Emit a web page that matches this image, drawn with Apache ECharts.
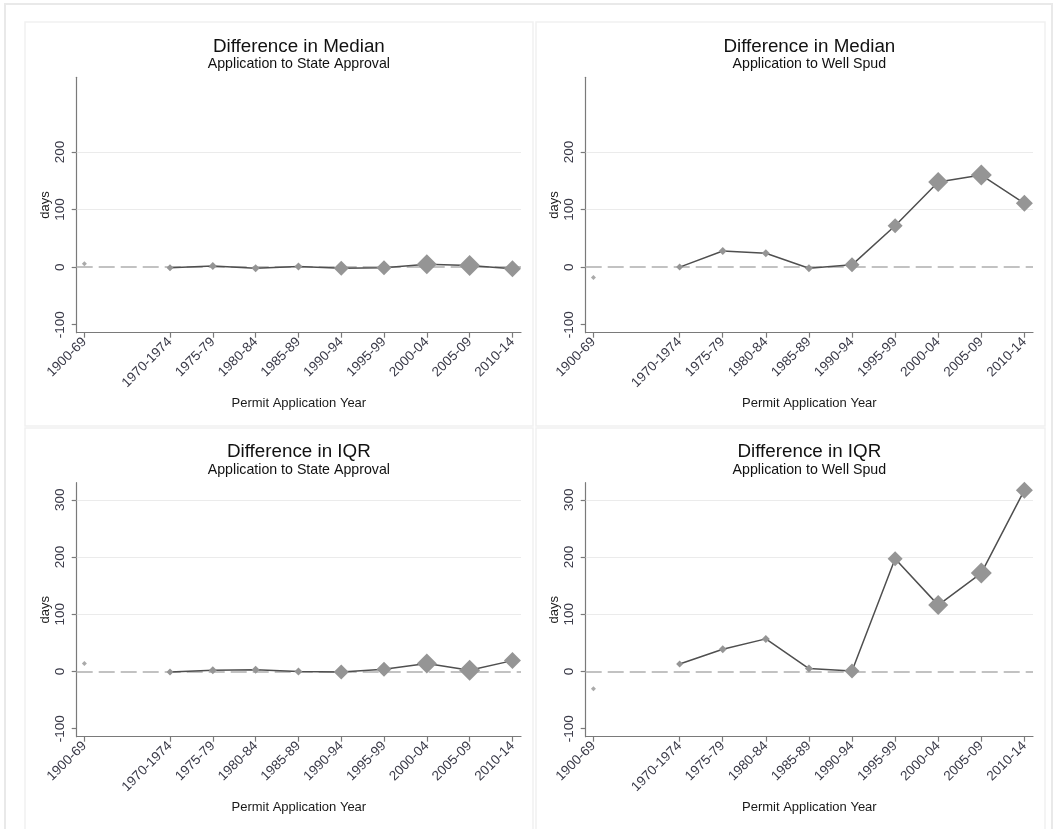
<!DOCTYPE html>
<html>
<head>
<meta charset="utf-8">
<script src="https://cdn.jsdelivr.net/npm/echarts@6/dist/echarts.min.js"></script>
<style>
  html, body { margin: 0; padding: 0; background: #ffffff; }
  #chart { width: 1058px; height: 829px; }
</style>
</head>
<body>
<div id="chart"></div>
<script>
// Permit application periods and their numeric code on the x scale
// (the 1900-69 group sits apart from the five-year groups).
const periods = ['1900-69', '1970-1974', '1975-79', '1980-84', '1985-89',
                 '1990-94', '1995-99', '2000-04', '2005-09', '2010-14'];
const periodCode = [0, 2, 3, 4, 5, 6, 7, 8, 9, 10];

// Differences in days, one value per period
const medianApproval = [6, -1, 2, -2, 1, -2, -1, 5, 3, -3];
const medianSpud     = [-18, 0, 28, 24, -2, 4, 72, 148, 160, 111];
const iqrApproval    = [14, -1, 2, 3, 0, -1, 4, 14, 2, 19];
const iqrSpud        = [-30, 13, 39, 57, 5, 1, 197, 116, 172, 317];

// Y tick labels
const yTicksMedian = [-100, 0, 100, 200];
const yTicksIqr    = [-100, 0, 100, 200, 300];

// Texts
const panelTitles    = ['Difference in Median', 'Difference in Median', 'Difference in IQR', 'Difference in IQR'];
const panelSubtitles = ['Application to State Approval', 'Application to Well Spud',
                        'Application to State Approval', 'Application to Well Spud'];
const xAxisTitle = 'Permit Application Year';
const yAxisTitle = 'days';

// ---- styling / layout ----
const FONT = '"Liberation Sans", Arial, sans-serif';
const AXIS_COLOR = '#7a7a7a';
const LABEL_COLOR = '#3a3a48';
const MARKER_COLOR = '#959595';
const LINE_COLOR = '#4f4f4f';
// diamond sizes by period (weighted markers)
const symbolSizes = [5, 7, 8, 8, 8, 15, 15, 20, 21, 17];

const cols = [{ left: 76.7, width: 444.3 }, { left: 585.7, width: 447.3 }];
const rows = [{ top: 77.3, height: 255.4 }, { top: 482.7, height: 254 }];

const panels = [
  { values: medianApproval, ticks: yTicksMedian, col: 0, row: 0 },
  { values: medianSpud,     ticks: yTicksMedian, col: 1, row: 0 },
  { values: iqrApproval,    ticks: yTicksIqr,    col: 0, row: 1 },
  { values: iqrSpud,        ticks: yTicksIqr,    col: 1, row: 1 }
];

const grid = [], xAxis = [], yAxis = [], series = [], title = [];

panels.forEach((p, i) => {
  const c = cols[p.col], r = rows[p.row];
  grid.push({ left: c.left, top: r.top, width: c.width, height: r.height, containLabel: false });

  title.push({
    text: panelTitles[i],
    subtext: panelSubtitles[i],
    left: c.left + c.width / 2,
    top: r.top - 40,
    textAlign: 'center',
    padding: 0,
    itemGap: 1,
    textStyle: { fontFamily: FONT, fontSize: 18.8, fontWeight: 'normal', color: '#111' },
    subtextStyle: { fontFamily: FONT, fontSize: 14.2, color: '#111' }
  });

  xAxis.push({
    type: 'value', gridIndex: i, min: -0.18, max: 10.2,
    axisLine: { show: true, onZero: false, lineStyle: { color: AXIS_COLOR, width: 1.2 } },
    axisTick: { show: true, inside: false, customValues: periodCode, length: 5, lineStyle: { color: AXIS_COLOR, width: 1.2 } },
    axisLabel: {
      customValues: periodCode, rotate: 45, margin: 7,
      fontFamily: FONT, fontSize: 13.5, color: LABEL_COLOR,
      formatter: v => periods[periodCode.indexOf(Math.round(v))]
    },
    splitLine: { show: false },
    name: xAxisTitle, nameLocation: 'middle', nameGap: 64,
    nameTextStyle: { fontFamily: FONT, fontSize: 13, color: '#1a1a1a' }
  });

  yAxis.push({
    type: 'value', gridIndex: i, min: -114, max: 330,
    axisLine: { show: true, onZero: false, lineStyle: { color: AXIS_COLOR, width: 1.2 } },
    axisTick: { show: true, inside: false, customValues: p.ticks, length: 5, lineStyle: { color: AXIS_COLOR, width: 1.2 } },
    axisLabel: {
      customValues: p.ticks, rotate: 90, margin: 9,
      fontFamily: FONT, fontSize: 13.5, color: LABEL_COLOR
    },
    splitLine: { show: false },
    name: yAxisTitle, nameLocation: 'middle', nameGap: 25,
    nameTextStyle: { fontFamily: FONT, fontSize: 13, color: '#1a1a1a' }
  });

  // reference lines: light grid at positive ticks, dashed zero line
  const refLines = p.ticks.filter(v => v > 0).map(v => ({
    yAxis: v, lineStyle: { color: '#ebebeb', width: 1, type: 'solid' }
  }));
  refLines.push({ yAxis: 0, lineStyle: { color: '#c2c2c2', width: 1.8, type: [16, 6] } });
  series.push({
    type: 'line', xAxisIndex: i, yAxisIndex: i, data: [], z: 1, silent: true,
    markLine: { z: 1, silent: true, symbol: 'none', animation: false, label: { show: false }, data: refLines }
  });

  // the 1900-69 group, shown unconnected
  series.push({
    type: 'scatter', xAxisIndex: i, yAxisIndex: i, z: 3, animation: false,
    symbol: 'diamond', symbolSize: symbolSizes[0],
    itemStyle: { color: MARKER_COLOR },
    data: [[periodCode[0], p.values[0]]]
  });

  // five-year groups, connected
  series.push({
    type: 'line', xAxisIndex: i, yAxisIndex: i, z: 3, animation: false,
    symbol: 'diamond', showSymbol: true, showAllSymbol: true,
    symbolSize: (val, params) => symbolSizes[params.dataIndex + 1],
    lineStyle: { color: LINE_COLOR, width: 1.5 },
    itemStyle: { color: MARKER_COLOR, borderWidth: 0 },
    emphasis: { disabled: true },
    data: periodCode.slice(1).map((code, k) => [code, p.values[k + 1]])
  });
});

// panel frames
const frame = (x, y, w, h, color, lw) => ({
  type: 'rect', silent: true, z: -10,
  shape: { x, y, width: w, height: h },
  style: { fill: null, stroke: color, lineWidth: lw }
});

const chart = echarts.init(document.getElementById('chart'), null, { renderer: 'canvas' });
chart.setOption({
  backgroundColor: '#ffffff',
  animation: false,
  title, grid, xAxis, yAxis, series,
  graphic: [
    frame(5, 4, 1047, 840, '#e9e9e9', 2),
    frame(25, 22, 508, 404, '#f1f1f1', 1.5),
    frame(536, 22, 509, 404, '#f1f1f1', 1.5),
    frame(25, 428, 508, 410, '#f1f1f1', 1.5),
    frame(536, 428, 509, 410, '#f1f1f1', 1.5)
  ]
});
</script>
</body>
</html>
